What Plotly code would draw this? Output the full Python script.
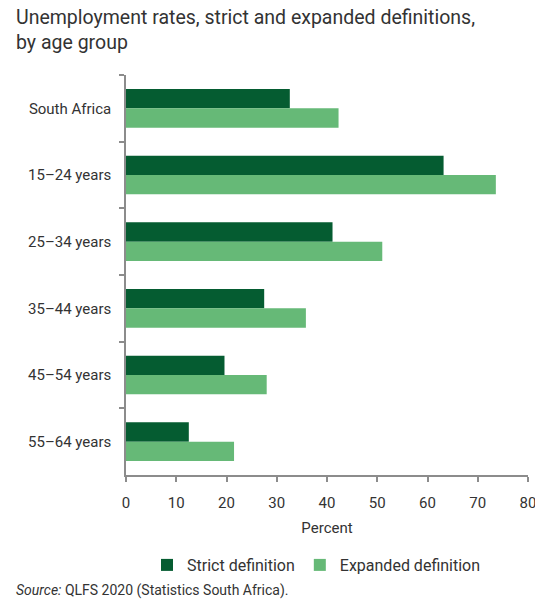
import plotly.graph_objects as go

# Unemployment rates (%) by age group, 2020
categories = ["South Africa", "15–24 years", "25–34 years", "35–44 years", "45–54 years", "55–64 years"]
strict = [32.6, 63.2, 41.1, 27.5, 19.6, 12.5]
expanded = [42.3, 73.6, 51.0, 35.8, 28.0, 21.5]
x_ticks = [0, 10, 20, 30, 40, 50, 60, 70, 80]

FONT = "Roboto, Liberation Sans, sans-serif"
TEXT = "#333333"
AXIS = "#8c8c8c"
DARK = "#055C31"
LIGHT = "#66B977"

fig = go.Figure()
fig.add_trace(go.Bar(
    y=categories, x=strict, orientation="h", name="Strict definition",
    marker=dict(color=DARK, line=dict(width=0)),
))
fig.add_trace(go.Bar(
    y=categories, x=expanded, orientation="h", name="Expanded definition",
    marker=dict(color=LIGHT, line=dict(width=0)),
))

fig.update_layout(
    width=535, height=608,
    margin=dict(l=126, r=7, t=75, b=133, autoexpand=False),
    paper_bgcolor="white", plot_bgcolor="white",
    font=dict(family=FONT, color=TEXT, size=15),
    barmode="group", bargap=0.42, bargroupgap=0,
    xaxis=dict(
        range=[0, 80.001], tickmode="array", tickvals=x_ticks,
        ticktext=[str(v) for v in x_ticks],
        showgrid=False, zeroline=False, automargin=False,
        showline=True, linecolor=AXIS, linewidth=1.5,
        ticks="outside", ticklen=5, tickcolor=AXIS, tickwidth=1.5,
        tickfont=dict(size=15, color=TEXT), ticklabelstandoff=8,
        ticklabeloverflow="allow",
        title=dict(text="Percent", font=dict(size=15, color=TEXT), standoff=12),
    ),
    yaxis=dict(
        autorange="reversed", showgrid=False, zeroline=False, automargin=False,
        showline=True, linecolor=AXIS, linewidth=1.5,
        ticks="outside", ticklen=5, tickcolor=AXIS, tickwidth=1.5,
        tickson="boundaries", tickfont=dict(size=15, color=TEXT),
        ticklabelstandoff=10,
    ),
    legend=dict(
        orientation="h", x=147 / 535, xanchor="left", xref="container",
        y=1 - 548 / 608, yanchor="top", yref="container",
        font=dict(size=16, color=TEXT), itemwidth=30, traceorder="normal",
    ),
    showlegend=True,
)

# Two-line title, left aligned
fig.add_annotation(
    text="Unemployment rates, strict and expanded definitions,<br>by age group",
    xref="paper", yref="paper", x=-112 / 402, y=1 + 71 / 400,
    xanchor="left", yanchor="top", align="left", showarrow=False,
    font=dict(family=FONT, size=19.5, color=TEXT),
)

fig.add_annotation(
    text="<i>Source:</i> QLFS 2020 (Statistics South Africa).",
    xref="paper", yref="paper", x=-112 / 402, y=-115 / 400,
    xanchor="left", yanchor="middle", showarrow=False,
    font=dict(family=FONT, size=14, color=TEXT),
)

fig.write_html("out.html")
